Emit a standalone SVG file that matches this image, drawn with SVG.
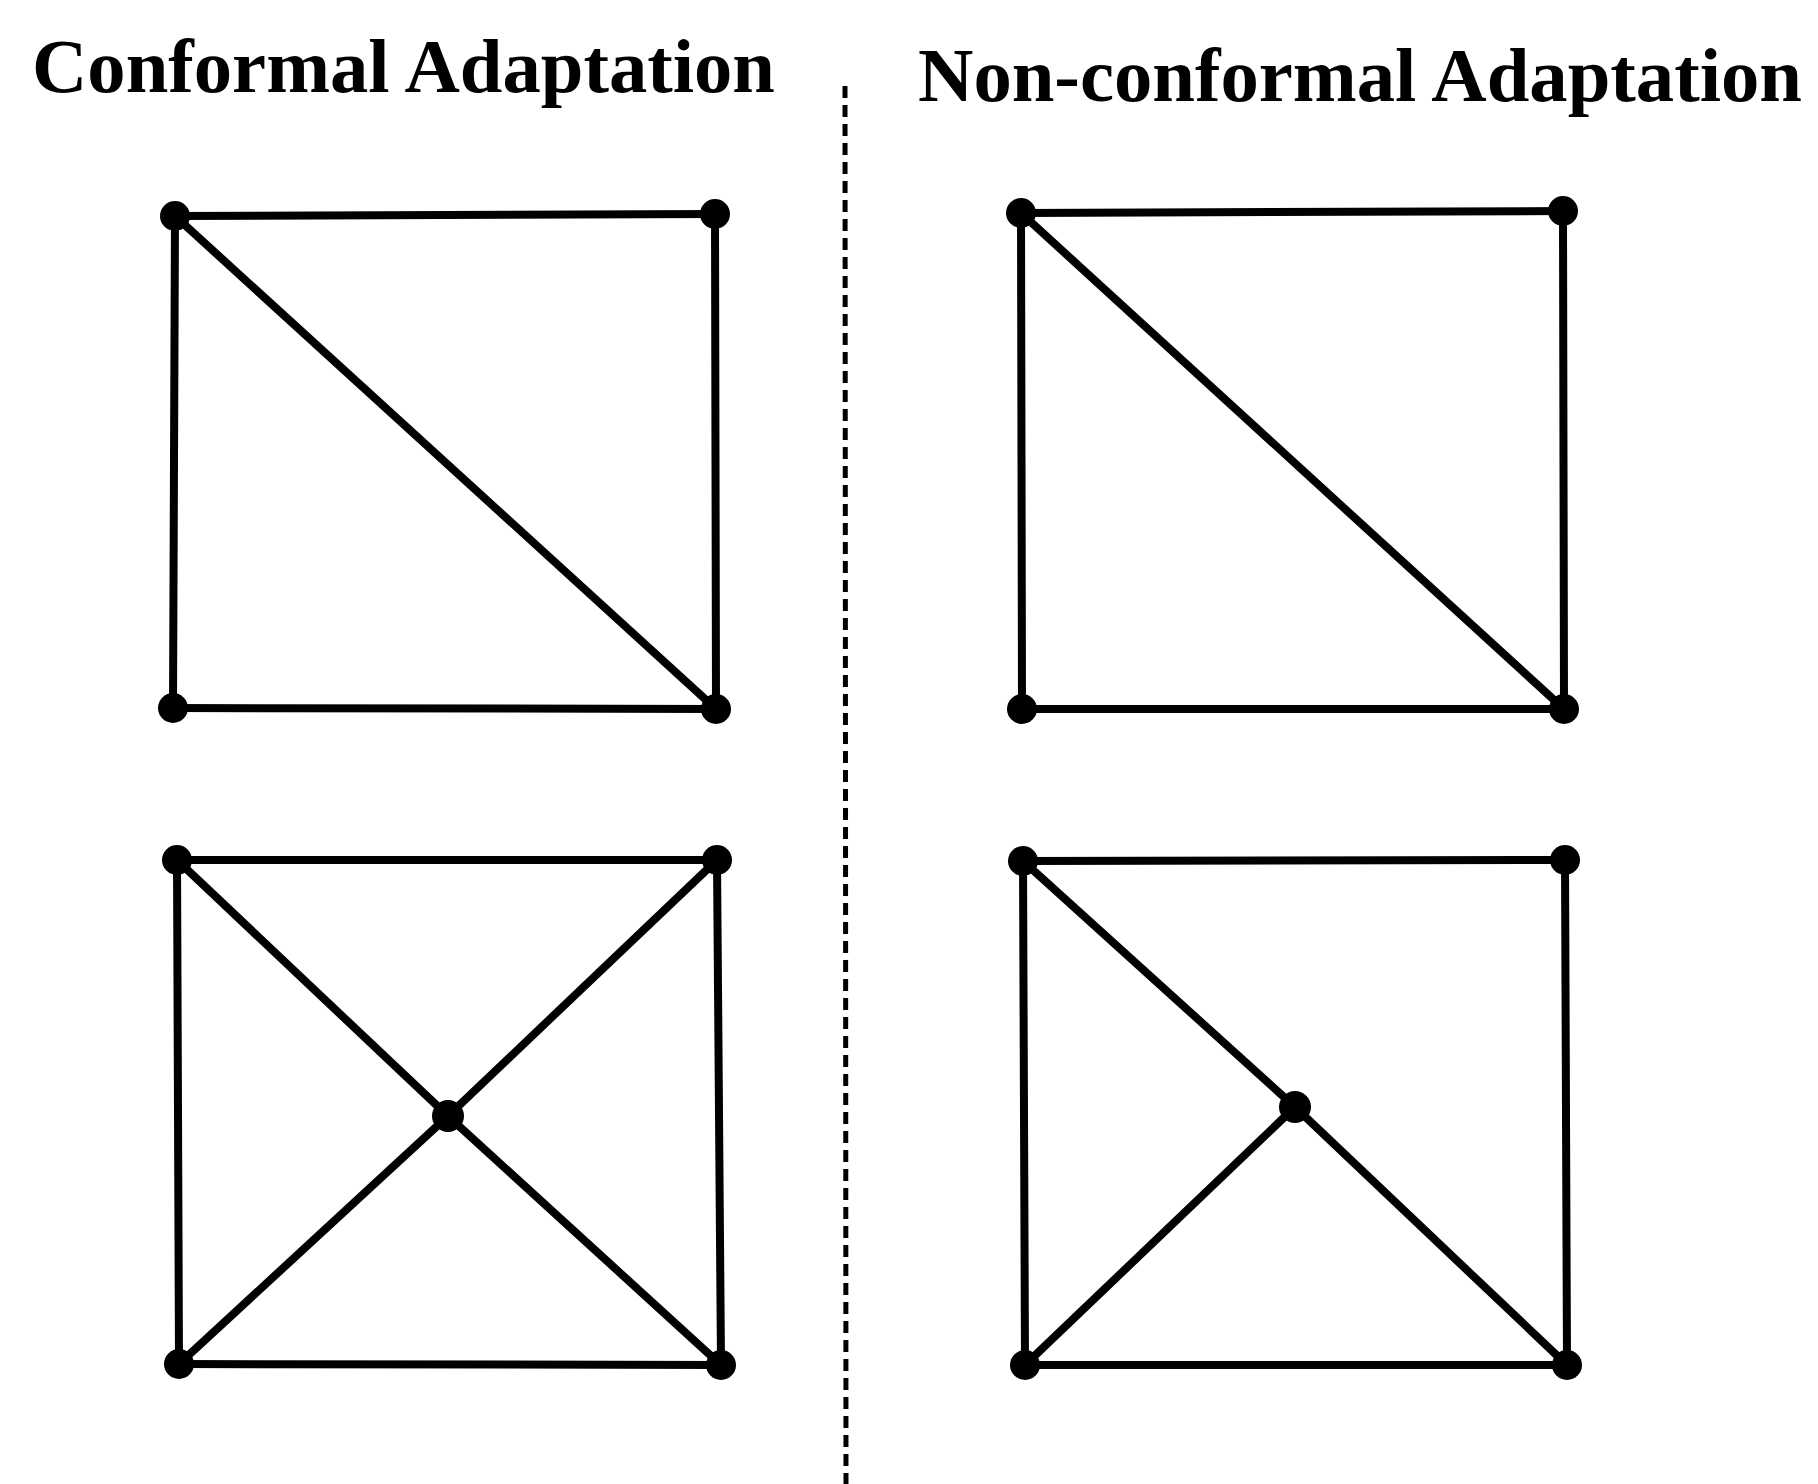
<svg xmlns="http://www.w3.org/2000/svg" width="1818" height="1484" viewBox="0 0 1818 1484">
<style>
.title{font-family:"Liberation Serif","Times New Roman",serif;font-weight:bold;font-size:77px;fill:#000}
.edge{stroke:#000;stroke-width:8;stroke-linecap:round;fill:none}
.node{fill:#000}
.divider{stroke:#000;stroke-width:5;stroke-dasharray:12 7;fill:none}
</style>
<rect width="1818" height="1484" fill="#fff"/>
<text class="title" x="32" y="92" textLength="743" lengthAdjust="spacingAndGlyphs">Conformal Adaptation</text>
<text class="title" x="918" y="101" textLength="884" lengthAdjust="spacingAndGlyphs">Non-conformal Adaptation</text>
<line class="divider" x1="845" y1="86" x2="846" y2="1484"/>
<g id="connectors">
  <line class="edge" x1="175" y1="216" x2="715" y2="214"/>
  <line class="edge" x1="175" y1="216" x2="173" y2="708"/>
  <line class="edge" x1="715" y1="214" x2="716" y2="709"/>
  <line class="edge" x1="173" y1="708" x2="716" y2="709"/>
  <line class="edge" x1="175" y1="216" x2="716" y2="709"/>

  <line class="edge" x1="1021" y1="213" x2="1563" y2="211"/>
  <line class="edge" x1="1021" y1="213" x2="1022" y2="709"/>
  <line class="edge" x1="1563" y1="211" x2="1564" y2="709"/>
  <line class="edge" x1="1022" y1="709" x2="1564" y2="709"/>
  <line class="edge" x1="1021" y1="213" x2="1564" y2="709"/>

  <line class="edge" x1="177" y1="860" x2="717" y2="860"/>
  <line class="edge" x1="177" y1="860" x2="179" y2="1364"/>
  <line class="edge" x1="717" y1="860" x2="721" y2="1365"/>
  <line class="edge" x1="179" y1="1364" x2="721" y2="1365"/>
  <line class="edge" x1="177" y1="860" x2="448" y2="1116"/>
  <line class="edge" x1="448" y1="1116" x2="721" y2="1365"/>
  <line class="edge" x1="717" y1="860" x2="448" y2="1116"/>
  <line class="edge" x1="448" y1="1116" x2="179" y2="1364"/>

  <line class="edge" x1="1023" y1="861" x2="1565" y2="860"/>
  <line class="edge" x1="1023" y1="861" x2="1025" y2="1365"/>
  <line class="edge" x1="1565" y1="860" x2="1567" y2="1365"/>
  <line class="edge" x1="1025" y1="1365" x2="1567" y2="1365"/>
  <line class="edge" x1="1023" y1="861" x2="1295" y2="1107"/>
  <line class="edge" x1="1295" y1="1107" x2="1567" y2="1365"/>
  <line class="edge" x1="1295" y1="1107" x2="1025" y2="1365"/>
</g>
<g id="n1a"><circle class="node" cx="175" cy="216" r="15"/></g>
<g id="n1b"><circle class="node" cx="715" cy="214" r="15"/></g>
<g id="n1c"><circle class="node" cx="173" cy="708" r="15"/></g>
<g id="n1d"><circle class="node" cx="716" cy="709" r="15"/></g>
<g id="n2a"><circle class="node" cx="1021" cy="213" r="15"/></g>
<g id="n2b"><circle class="node" cx="1563" cy="211" r="15"/></g>
<g id="n2c"><circle class="node" cx="1022" cy="709" r="15"/></g>
<g id="n2d"><circle class="node" cx="1564" cy="709" r="15"/></g>
<g id="n3a"><circle class="node" cx="177" cy="860" r="15"/></g>
<g id="n3b"><circle class="node" cx="717" cy="860" r="15"/></g>
<g id="n3c"><circle class="node" cx="179" cy="1364" r="15"/></g>
<g id="n3d"><circle class="node" cx="721" cy="1365" r="15"/></g>
<g id="n3e"><circle class="node" cx="448" cy="1116" r="16"/></g>
<g id="n4a"><circle class="node" cx="1023" cy="861" r="15"/></g>
<g id="n4b"><circle class="node" cx="1565" cy="860" r="15"/></g>
<g id="n4c"><circle class="node" cx="1025" cy="1365" r="15"/></g>
<g id="n4d"><circle class="node" cx="1567" cy="1365" r="15"/></g>
<g id="n4e"><circle class="node" cx="1295" cy="1107" r="16"/></g>
</svg>
